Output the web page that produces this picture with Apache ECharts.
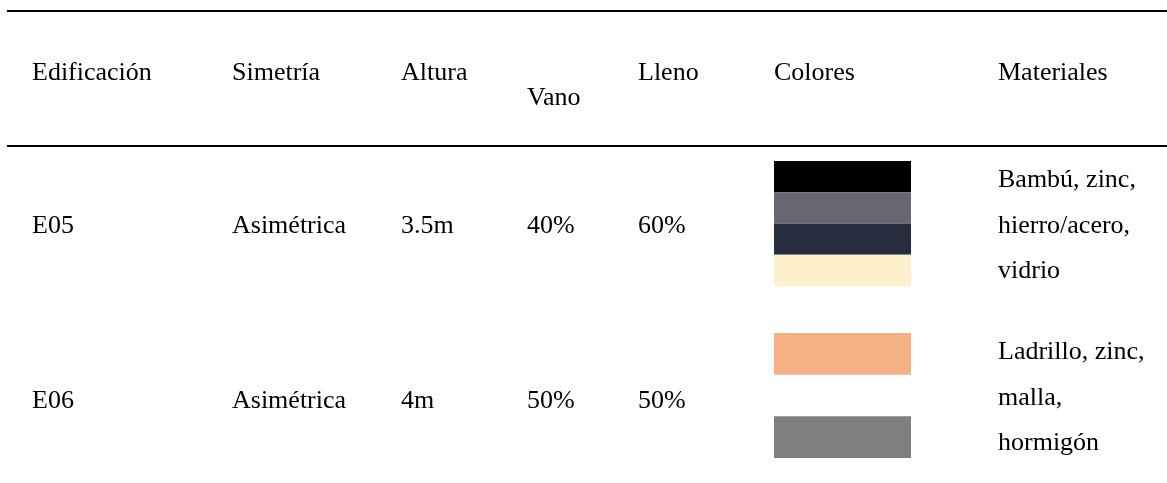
<!DOCTYPE html>
<html>
<head>
<meta charset="utf-8">
<script src="https://cdn.jsdelivr.net/npm/echarts@6/dist/echarts.min.js"></script>
<style>
html,body{margin:0;padding:0;background:#fff;}
#main{width:1167px;height:483px;}
</style>
</head>
<body>
<div id="main"></div>
<script>
// ---- data ----
const headers = ['Edificación', 'Simetría', 'Altura', 'Vano', 'Lleno', 'Colores', 'Materiales'];
const buildings = ['E05', 'E06'];
const symmetry = ['Asimétrica', 'Asimétrica'];
const heights = ['3.5m', '4m'];
const vanoPct = ['40%', '50%'];
const llenoPct = ['60%', '50%'];
const swatchColors = [
  ['#000000', '#676673', '#282e40', '#fff0cd'],
  ['#f4b183', null, '#7f7f7f']
];
const materials = [
  ['Bambú, zinc,', 'hierro/acero,', 'vidrio'],
  ['Ladrillo, zinc,', 'malla,', 'hormigón']
];

// ---- layout (not data) ----
const W = 1167, H = 483;
const colX = [32, 232, 401, 527, 638, 774, 998];
const headerY = [73, 73, 73, 98, 73, 73, 73];
const rowY = [226, 401];
const matY = [226, 398];
const matLineGap = 45.5;
const swatchCenterY = [223.5, 395.5];
const swatchW = 137, swatchH = 125;
const rulesY = [11, 146];
const ruleX0 = 7;
const FONT = '26px "Liberation Serif", "Times New Roman", serif';

// build cells
const cells = [];
headers.forEach((h, i) => cells.push({ x: colX[i], y: headerY[i], text: h }));
buildings.forEach((b, r) => {
  const vals = [buildings[r], symmetry[r], heights[r], vanoPct[r], llenoPct[r]];
  vals.forEach((v, c) => cells.push({ x: colX[c], y: rowY[r], text: v }));
  const lines = materials[r];
  lines.forEach((t, k) => cells.push({ x: colX[6], y: matY[r] + (k - (lines.length - 1) / 2) * matLineGap, text: t }));
});

const swatches = [];
swatchColors.forEach((cols, r) => {
  const seg = swatchH / cols.length;
  const top = swatchCenterY[r] - swatchH / 2;
  cols.forEach((col, k) => {
    if (col) swatches.push({ x0: colX[5], y0: top + k * seg, x1: colX[5] + swatchW, y1: top + (k + 1) * seg, color: col });
  });
});

const chart = echarts.init(document.getElementById('main'), null, { renderer: 'canvas' });
chart.setOption({
  animation: false,
  backgroundColor: '#ffffff',
  grid: { left: 0, right: 0, top: 0, bottom: 0 },
  xAxis: { type: 'value', min: 0, max: W, show: false },
  yAxis: { type: 'value', min: 0, max: H, inverse: true, show: false },
  series: [
    {
      type: 'custom',
      clip: false,
      data: rulesY.map(y => [ruleX0, y, W]),
      renderItem: function (params, api) {
        const p0 = api.coord([api.value(0), api.value(1)]);
        const p1 = api.coord([api.value(2), api.value(1)]);
        return { type: 'line', shape: { x1: p0[0], y1: p0[1], x2: p1[0], y2: p1[1] }, style: { stroke: '#000', lineWidth: 2 } };
      }
    },
    {
      type: 'custom',
      clip: false,
      data: swatches.map(s => [s.x0, s.y0, s.x1, s.y1]),
      renderItem: function (params, api) {
        const p0 = api.coord([api.value(0), api.value(1)]);
        const p1 = api.coord([api.value(2), api.value(3)]);
        return { type: 'rect', shape: { x: p0[0], y: p0[1], width: p1[0] - p0[0], height: p1[1] - p0[1] }, style: { fill: swatches[params.dataIndex].color } };
      }
    },
    {
      type: 'custom',
      clip: false,
      data: cells.map(c => [c.x, c.y]),
      renderItem: function (params, api) {
        const p = api.coord([api.value(0), api.value(1)]);
        return { type: 'text', x: p[0], y: p[1], style: { text: cells[params.dataIndex].text, font: FONT, fill: '#000', align: 'left', verticalAlign: 'middle' } };
      }
    }
  ]
});
</script>
</body>
</html>
